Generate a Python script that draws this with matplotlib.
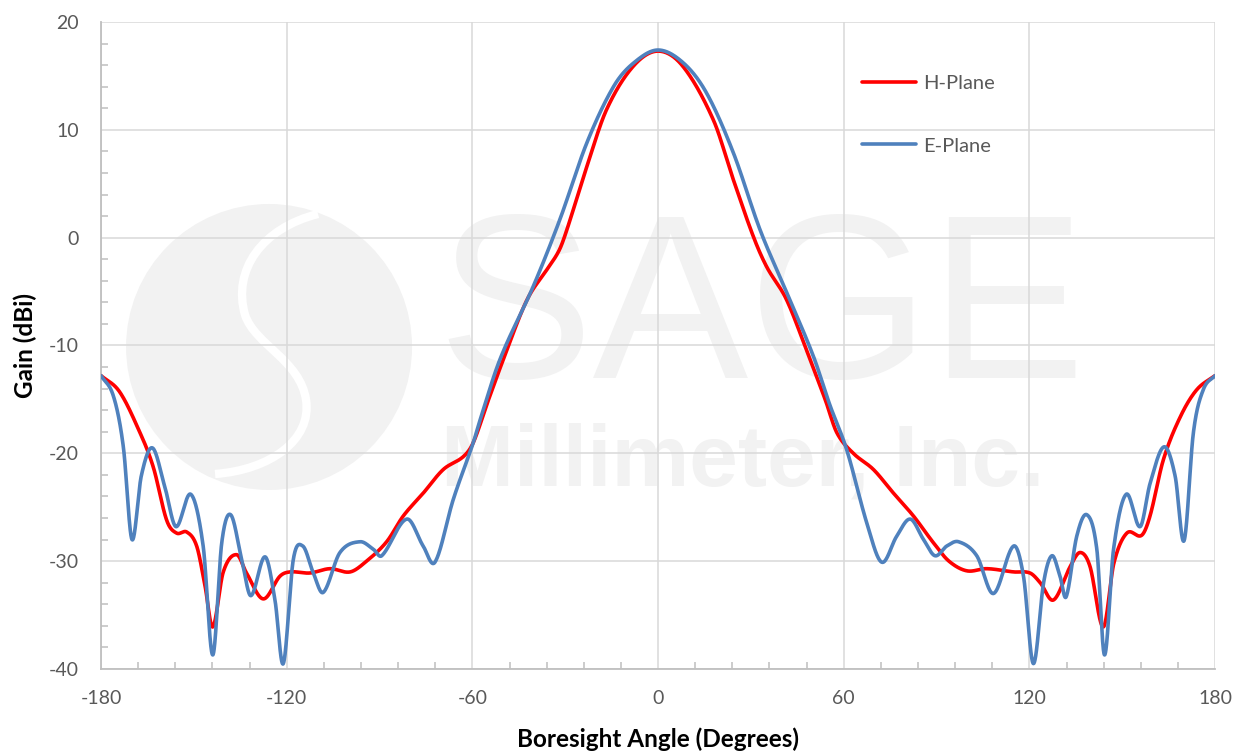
import matplotlib
matplotlib.use('Agg')
import matplotlib.pyplot as plt
import numpy as np
from matplotlib.patches import Ellipse, PathPatch
from matplotlib.path import Path
from matplotlib.ticker import MultipleLocator

plt.rcParams['font.family'] = ['Lato', 'DejaVu Sans']
plt.rcParams['axes.unicode_minus'] = False

# H-Plane (red) pattern
h_angle = [-180, -174, -167.4, -163.1, -158.8, -155.6, -152.3, -149.1, -146.4, -143.9,
           -140.5, -136.2, -133, -127.6, -122.2, -118.9, -112.5, -106, -99.5, -94.2,
           -87.7, -82.3, -75.9, -69.4, -62.9, -59.7, -55, -50, -42.4, -36, -32, -29.5,
           -23, -16.6, -8, 0, 8, 17.9, 24.3, 30.8, 35.1, 41.6, 49.1, 54, 57.8, 63.1,
           69.6, 76.1, 82.5, 89, 94, 99.8, 106.2, 114.9, 120.2, 123.5, 127.8, 133.2,
           136.4, 139.6, 143.9, 147.3, 151.5, 156.3, 159, 163.3, 168.8, 174.1, 180]
h_gain = [-12.8, -14.3, -18.1, -21.3, -26.2, -27.4, -27.3, -28.6, -32.3, -36.1,
          -31.0, -29.4, -31.1, -33.5, -31.4, -31.0, -31.1, -30.7, -31.0, -30.0,
          -28.2, -25.8, -23.7, -21.5, -20.3, -19.0, -15.2, -11.3, -5.8, -3.0, -1.2, 0.7,
          6.6, 11.9, 15.9, 17.3, 15.9, 10.9, 5.4, 0.1, -2.7, -5.8, -11.3, -15.0, -18.1, -20.0,
          -21.5, -23.7, -25.8, -28.3, -30.0, -30.9, -30.7, -31.0, -31.1, -32.0, -33.6, -30.5,
          -29.2, -30.5, -36.1, -30.2, -27.4, -27.6, -25.8, -20.6, -16.6, -14.1, -12.8]

# E-Plane (blue) pattern
e_angle = [-180, -176, -172.8, -170, -167, -163.4, -159.4, -155.8, -151, -147,
           -143.9, -141, -138.1, -134.5, -131.6, -127, -123.8, -121.1, -117.9, -114.8,
           -111.4, -108.2, -102.8, -96.3, -92, -89.3, -81.2, -75.9, -72.1, -66.2,
           -59.7, -57.5, -51.1, -40.3, -31.7, -23, -14.4, -7.9, 0, 8.2, 15.7, 24.3,
           33, 41.6, 50.2, 55.5, 61, 67.5, 72.3, 77.1, 81.5, 85.8, 89.5, 93.3, 97.1,
           103, 108.4, 114.9, 118.1, 121.3, 124.6, 127.3, 129.9, 131.9, 135.3, 138.6,
           141.8, 144.3, 147.2, 151.3, 155.8, 159, 163.5, 167.1, 170, 173, 176.2, 180]
e_gain = [-12.8, -14.7, -19.4, -28.0, -22.1, -19.5, -23.1, -26.8, -23.8, -28.6,
          -38.7, -28.3, -25.7, -29.9, -33.2, -29.6, -33.6, -39.5, -29.9, -28.6,
          -31.1, -32.9, -29.2, -28.2, -28.9, -29.5, -26.1, -28.6, -30.1, -24.3,
          -19.0, -16.9, -11.3, -4.5, 1.7, 8.8, 14.0, 16.2, 17.4, 16.2, 13.4, 7.9,
          0.7, -5.1, -11.0, -15.5, -19.7, -26.5, -30.1, -27.7, -26.1, -28.0, -29.5, -28.6, -28.2,
          -29.5, -33.0, -28.6, -31.4, -39.5, -32.0, -29.5, -31.4, -33.3, -27.7, -25.7,
          -28.9, -38.7, -28.9, -23.8, -26.8, -22.8, -19.4, -22.1, -28.1, -18.1, -14.1, -12.8]

x_ticks = [-180, -120, -60, 0, 60, 120, 180]
y_ticks = [-40, -30, -20, -10, 0, 10, 20]


def smooth(xs, ys, n=40):
    # cubic hermite like Excel "smoothed line"
    xs = np.asarray(xs, float)
    ys = np.asarray(ys, float)
    m = np.zeros_like(ys)
    m[1:-1] = (ys[2:] - ys[:-2]) / (xs[2:] - xs[:-2])
    m[0] = (ys[1] - ys[0]) / (xs[1] - xs[0])
    m[-1] = (ys[-1] - ys[-2]) / (xs[-1] - xs[-2])
    out_x, out_y = [], []
    for i in range(len(xs) - 1):
        h = xs[i + 1] - xs[i]
        t = np.linspace(0, 1, n, endpoint=False)
        h00 = 2 * t**3 - 3 * t**2 + 1
        h10 = t**3 - 2 * t**2 + t
        h01 = -2 * t**3 + 3 * t**2
        h11 = t**3 - t**2
        out_x.append(xs[i] + t * h)
        out_y.append(h00 * ys[i] + h10 * h * m[i] + h01 * ys[i + 1] + h11 * h * m[i + 1])
    out_x.append([xs[-1]])
    out_y.append([ys[-1]])
    return np.concatenate(out_x), np.concatenate(out_y)


fig = plt.figure(figsize=(12.43, 7.53), dpi=100)
ax = fig.add_axes([0.0813, 0.1116, 0.8962, 0.8592])


def px(x, y):
    # pixel of the picture -> axes fraction
    return ((x - 101) / 1114.0, (669 - y) / 647.0)


# watermark logo
wm = '#F2F2F2'
cx, cy = px(269, 347)
ax.add_patch(Ellipse((cx, cy), 286 / 1114.0, 286 / 647.0, transform=ax.transAxes,
                     facecolor=wm, edgecolor='none', zorder=0.1))
s_pts = [px(318, 214), px(262, 228), px(232, 270), px(245, 315),
         px(255, 345), px(300, 360), px(306, 400),
         px(312, 440), px(270, 470), px(215, 474)]
s_codes = [Path.MOVETO] + [Path.CURVE4] * 9
ax.add_patch(PathPatch(Path(s_pts, s_codes), transform=ax.transAxes, facecolor='none',
                       edgecolor='white', lw=6, zorder=0.2))
ax.text(*px(437, 378), 'SAGE', transform=ax.transAxes, fontsize=168, color=wm,
        family='Liberation Sans', ha='left', va='baseline', zorder=0.1)
ax.text(*px(441, 486), 'Millimeter, Inc.', transform=ax.transAxes, fontsize=63, color=wm,
        family='Liberation Sans', fontweight='bold', ha='left', va='baseline', zorder=0.1)

hx, hy = smooth(h_angle, h_gain)
ex, ey = smooth(e_angle, e_gain)
ax.plot(hx, hy, color='#FF0000', lw=2.6, label='H-Plane', zorder=3, solid_capstyle='round')
ax.plot(ex, ey, color='#4F81BD', lw=2.6, label='E-Plane', zorder=4, solid_capstyle='round')

ax.set_xlim(-180, 180)
ax.set_ylim(-40, 20)
ax.set_xticks(x_ticks)
ax.set_yticks(y_ticks)
ax.xaxis.set_minor_locator(MultipleLocator(12))
ax.yaxis.set_minor_locator(MultipleLocator(2))
ax.set_axisbelow(True)
ax.grid(True, which='major', color='#D9D9D9', lw=1.1)

for s in ['top', 'right']:
    ax.spines[s].set_visible(False)
for s in ['left', 'bottom']:
    ax.spines[s].set_color('#BFBFBF')
    ax.spines[s].set_linewidth(1.3)

ax.tick_params(which='major', length=0, labelsize=14, labelcolor='#595959')
ax.tick_params(axis='y', which='major', pad=16)
ax.tick_params(axis='x', which='major', pad=15)
ax.tick_params(which='minor', direction='in', length=5, width=1.1, color='#BFBFBF')

ax.set_xlabel('Boresight Angle (Degrees)', fontsize=17.5, fontweight='bold', color='black', labelpad=15)
ax.set_ylabel('Gain (dBi)', fontsize=17.5, fontweight='bold', color='black')
ax.yaxis.set_label_coords(-0.057, 0.5)

ax.legend(loc='upper left', bbox_to_anchor=(0.683, 0.918), frameon=False, fontsize=14.5,
          handlelength=2.7, handletextpad=0.35, labelspacing=2.25, borderpad=0,
          borderaxespad=0, labelcolor='#595959')

fig.savefig('out.png', dpi=100)
